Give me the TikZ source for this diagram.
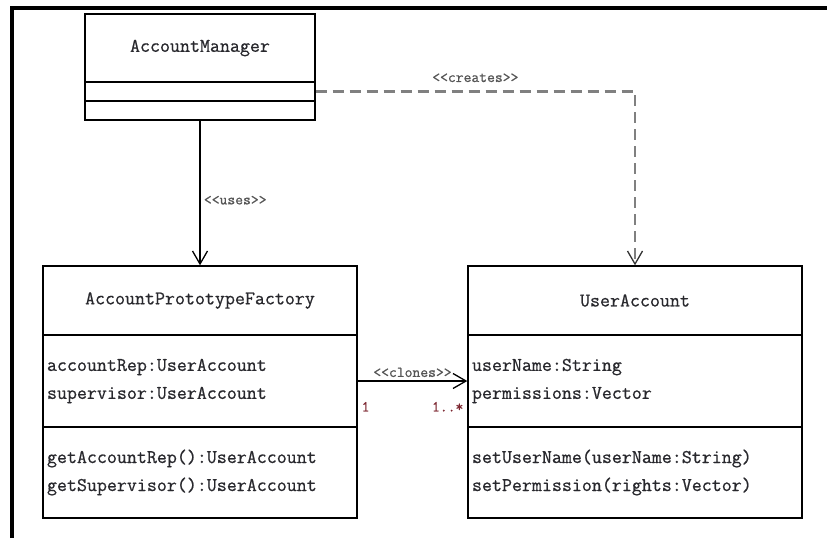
\documentclass[tikz,border=0pt]{standalone}
\usepackage{fontspec}
\usetikzlibrary{arrows.meta}
\newfontfamily\umlfont[FakeBold=0.7]{Latin Modern Mono}
\definecolor{multred}{RGB}{125,40,50}
\definecolor{stereogray}{RGB}{85,85,85}
\definecolor{umltext}{RGB}{40,40,45}
\begin{document}
\begin{tikzpicture}[x=1pt,y=-1pt,
  classpart/.style={draw,line width=1.4pt,inner sep=0pt,text=umltext,font=\umlfont\fontsize{19.4}{28}\selectfont},
  listpart/.style={classpart,align=left,inner xsep=4pt,text width=#1},
  stereo/.style={font=\umlfont\fontsize{15.2}{16}\selectfont,text=stereogray},
  mult/.style={font=\umlfont\fontsize{15.2}{16}\selectfont,text=multred},
  >={Straight Barb[length=13pt,width=15pt,line width=1.3pt]}]
\useasboundingbox[fill=white] (0,0) rectangle (827,538);
\draw[line width=4pt] (12,538) -- (12,8) -- (827,8);

% AccountManager
\node[classpart,minimum width=230pt,minimum height=68pt] (am-name) at (200,48) {AccountManager};
\node[classpart,minimum width=230pt,minimum height=19pt] (am-attr) at (200,91.5) {};
\node[classpart,minimum width=230pt,minimum height=19pt] (am-ops) at (200,110.5) {};

% AccountPrototypeFactory
\node[classpart,minimum width=314pt,minimum height=69pt] (apf-name) at (200,300.5) {AccountPrototypeFactory};
\node[listpart=306pt,minimum height=92pt] (apf-attr) at (200,381) {accountRep:UserAccount\\supervisor:UserAccount};
\node[listpart=306pt,minimum height=91pt] (apf-ops) at (200,472.5) {getAccountRep():UserAccount\\getSupervisor():UserAccount};

% UserAccount
\node[classpart,minimum width=334pt,minimum height=69pt] (ua-name) at (635,300.5) {UserAccount};
\node[listpart=326pt,minimum height=92pt] (ua-attr) at (635,381) {userName:String\\permissions:Vector};
\node[listpart=326pt,minimum height=91pt] (ua-ops) at (635,472.5) {setUserName(userName:String)\\setPermission(rights:Vector)};

\draw[->,line width=1.2pt] (am-ops.south) -- (apf-name.north) node[stereo,right,pos=0.55] {<<uses>>};
\draw[-{Straight Barb[length=13pt,width=15pt,line width=1.3pt,color=black!80]},gray,line width=2.2pt,dash pattern=on 11pt off 6pt]
  (am-attr.east) -| (ua-name.north) node[stereo,above,pos=0.25,yshift=5pt] {<<creates>>};
\draw[->,line width=1.3pt] (apf-attr.east) -- (ua-attr.west)
  node[stereo,above,midway] {<<clones>>}
  node[mult,below right,pos=0,yshift=-17pt] {1}
  node[mult,below left,pos=1,yshift=-17pt] {1..*};
\end{tikzpicture}
\end{document}
